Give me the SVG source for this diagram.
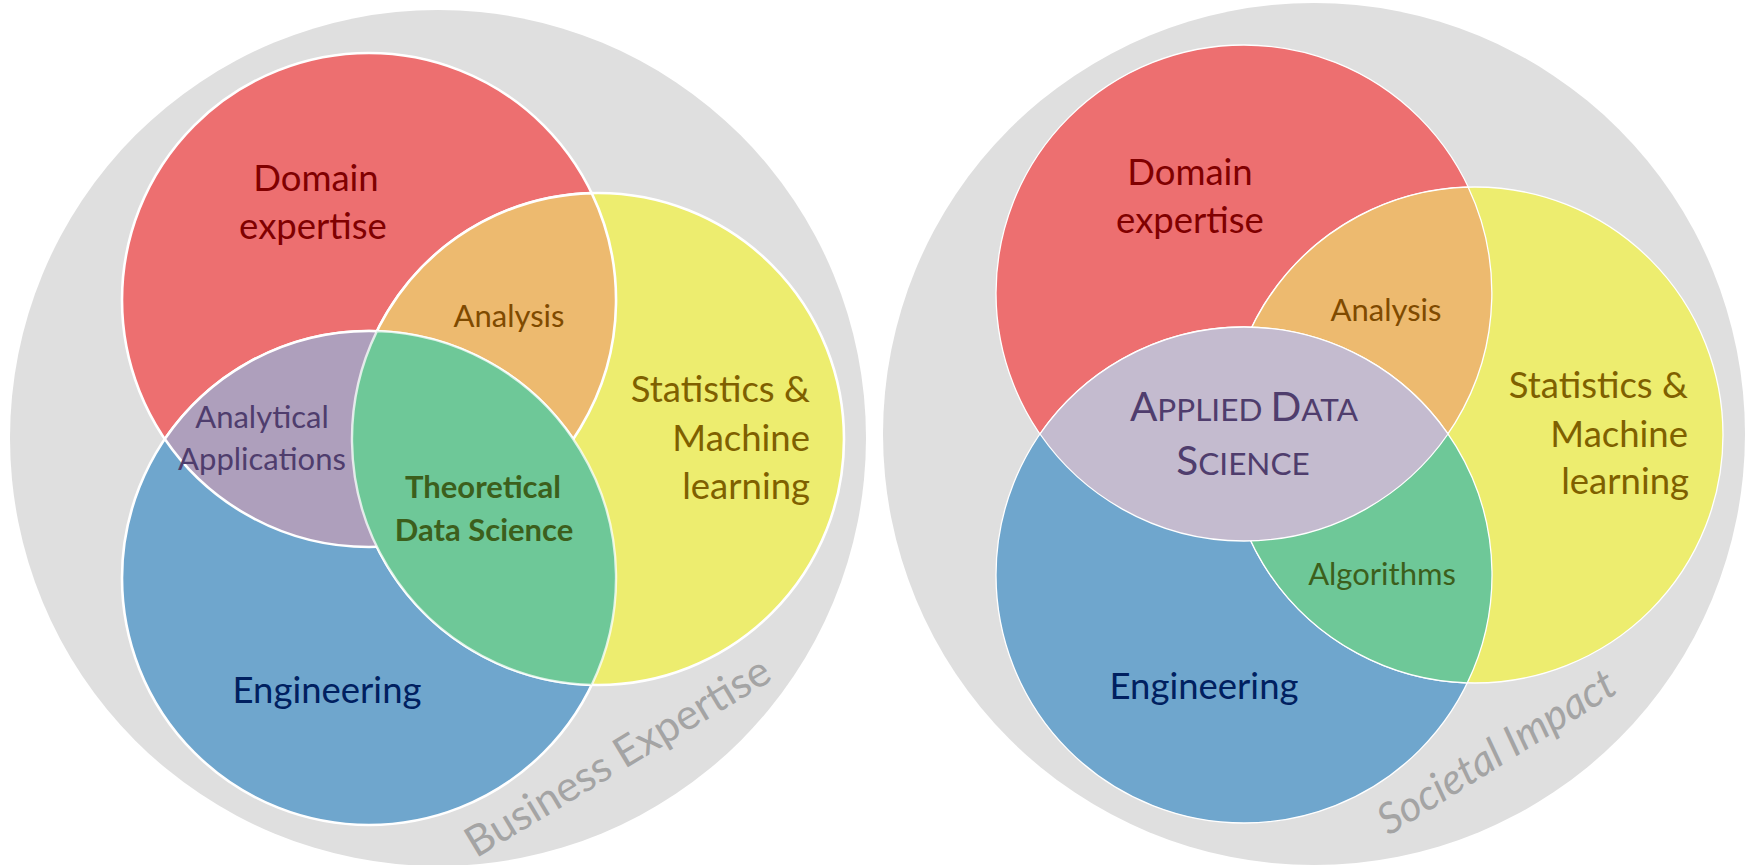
<svg xmlns="http://www.w3.org/2000/svg" width="1752" height="865" viewBox="0 0 1752 865">
  <style>
    .ring { fill: #dfdfdf; }
    .red { fill: #ed6f70; }
    .blue { fill: #6fa6cd; }
    .yellow { fill: #eded6f; }
    .orange { fill: #edba6f; }
    .green { fill: #6ec898; }
    .purpleL { fill: #ae9fbc; }
    .purpleR { fill: #c4bbcf; }
    .thick { stroke: #ffffff; stroke-width: 2.6; }
    .thin { stroke: #ffffff; stroke-width: 1.3; }
    text { font-family: Lato, "Liberation Sans", sans-serif; }
    .big { font-size: 36.5px; }
    .mid { font-size: 31px; }
    .domain { fill: #800000; }
    .stats { fill: #7f6000; }
    .analysis { fill: #7f4a00; }
    .eng { fill: #002060; }
    .apps { fill: #4f3d6d; }
    .algo { fill: #3c5f1c; }
    .outer { fill: #a4a4a4; font-size: 42.5px; }
  </style>

  <!-- Left diagram -->
  <g id="left-ring"><circle class="ring" cx="438" cy="438" r="428"/></g>
  <g id="left-domain"><circle class="red thick" cx="369" cy="300" r="247"/></g>
  <g id="left-engineering"><circle class="blue thick" cx="369" cy="578" r="247"/></g>
  <g id="left-statistics"><circle class="yellow thick" cx="598" cy="439" r="246"/></g>
  <g id="left-analysis"><path class="orange thick" d="M591.7,193.1 A247,247 0 0 1 376.9,546.9 A246,246 0 0 1 591.7,193.1 Z"/></g>
  <g id="left-applications"><path class="purpleL thick" d="M164.8,439 A247,247 0 0 1 573.2,439 A247,247 0 0 1 164.8,439 Z"/></g>
  <g id="left-theoretical"><path class="green" stroke="#ffffff" stroke-opacity="0.75" stroke-width="2.4" d="M376.9,331.1 A247,247 0 0 1 591.7,684.9 A246,246 0 0 1 376.9,331.1 Z"/></g>

  <g id="left-labels">
    <text class="big domain" x="316" y="191" text-anchor="middle">Domain</text>
    <text class="big domain" x="313" y="239" text-anchor="middle">expertise</text>
    <text class="mid analysis" x="509" y="327" text-anchor="middle">Analysis</text>
    <text class="big stats" x="810" y="402" text-anchor="end">Statistics &amp;</text>
    <text class="big stats" x="810" y="451" text-anchor="end">Machine</text>
    <text class="big stats" x="810" y="499" text-anchor="end">learning</text>
    <text class="mid apps" x="262" y="428" text-anchor="middle">Analytical</text>
    <text class="mid apps" x="262" y="470" text-anchor="middle">Applications</text>
    <text class="mid algo" x="483" y="498" text-anchor="middle" font-weight="bold">Theoretical</text>
    <text class="mid algo" x="484" y="541" text-anchor="middle" font-weight="bold">Data Science</text>
    <text class="big eng" x="327" y="703" text-anchor="middle">Engineering</text>
    <text class="outer" x="625" y="769" text-anchor="middle" transform="rotate(-31 625 769)">Business Expertise</text>
  </g>

  <!-- Right diagram -->
  <g id="right-ring"><circle class="ring" cx="1314" cy="434" r="431"/></g>
  <g id="right-domain"><circle class="red thin" cx="1244" cy="293" r="248"/></g>
  <g id="right-engineering"><circle class="blue thin" cx="1244" cy="575" r="248"/></g>
  <g id="right-statistics"><circle class="yellow thin" cx="1475" cy="435" r="248"/></g>
  <g id="right-analysis"><path class="orange thin" d="M1468.2,187.2 A248,248 0 0 1 1250.8,540.8 A248,248 0 0 1 1468.2,187.2 Z"/></g>
  <g id="right-algorithms"><path class="green thin" d="M1251.7,327.1 A248,248 0 0 1 1467.3,682.9 A248,248 0 0 1 1251.7,327.1 Z"/></g>
  <g id="right-applied"><path class="purpleR thin" d="M1040,434 A248,248 0 0 1 1448,434 A248,248 0 0 1 1040,434 Z"/></g>

  <g id="right-labels">
    <text class="big domain" x="1190" y="185" text-anchor="middle">Domain</text>
    <text class="big domain" x="1190" y="233" text-anchor="middle">expertise</text>
    <text class="mid analysis" x="1386" y="321" text-anchor="middle">Analysis</text>
    <text class="big stats" x="1688" y="398" text-anchor="end">Statistics &amp;</text>
    <text class="big stats" x="1688" y="447" text-anchor="end">Machine</text>
    <text class="big stats" x="1689" y="494" text-anchor="end">learning</text>
    <text class="apps" x="1244" y="421" text-anchor="middle" font-size="40.5px">A<tspan font-size="31.5px">PPLIED </tspan>D<tspan font-size="31.5px">ATA</tspan></text>
    <text class="apps" x="1243" y="475" text-anchor="middle" font-size="40.5px">S<tspan font-size="31.5px">CIENCE</tspan></text>
    <text class="mid algo" x="1382" y="585" text-anchor="middle">Algorithms</text>
    <text class="big eng" x="1204" y="699" text-anchor="middle">Engineering</text>
    <text class="outer" x="1504" y="764" text-anchor="middle" font-style="italic" font-size="44px" transform="rotate(-32 1504 764)">Societal Impact</text>
  </g>
</svg>
